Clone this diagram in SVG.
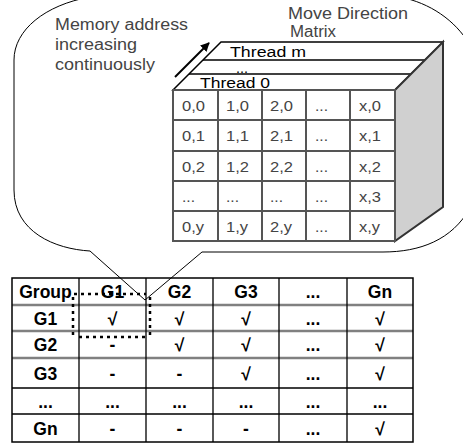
<svg xmlns="http://www.w3.org/2000/svg" width="463" height="444" viewBox="0 0 463 444">
<style>
.lbl{font-family:"Liberation Sans",Arial,sans-serif;font-size:16px;fill:#444}
.th{font-family:"Liberation Sans",Arial,sans-serif;font-size:15.5px;fill:#000}
.c{font-family:"Liberation Sans",Arial,sans-serif;font-size:14.5px;fill:#444}
.t{font-family:"Liberation Sans",Arial,sans-serif;font-size:17.5px;font-weight:bold;fill:#000;text-anchor:middle}
.grid{stroke:#555;stroke-width:2;fill:none}
.tl{stroke:#000;stroke-width:1.3;fill:none}
.tg{stroke:#808080;stroke-width:2.5;fill:none}
.dot{stroke:#000;stroke-width:2.5;stroke-dasharray:3 4;fill:none}
</style>
<defs>
<marker id="ah" viewBox="0 0 10 10" refX="9" refY="5" markerWidth="4.5" markerHeight="4.5" orient="auto" markerUnits="strokeWidth">
<path d="M0,0 L10,5 L0,10 Z" fill="#000"/>
</marker>
</defs>
<rect width="463" height="444" fill="#fff"/>
<g id="callout">
<path d="M90,251 L145,300 L202,252 L383,252 C420,252 452,240 470,208 L470,45 C455,20 430,3 400,-3 L90,-3 C45,5 14,30 14,60 L14,190 C14,232 55,249 90,251 Z" fill="#fff" stroke="#000" stroke-width="1"/>
</g>
<g id="labels">
<text class="lbl" x="55" y="30" textLength="133" lengthAdjust="spacingAndGlyphs">Memory address</text>
<text class="lbl" x="55" y="50" textLength="82" lengthAdjust="spacingAndGlyphs">increasing</text>
<text class="lbl" x="55" y="70" textLength="100" lengthAdjust="spacingAndGlyphs">continuously</text>
<text class="lbl" x="288" y="19" textLength="120" lengthAdjust="spacingAndGlyphs">Move Direction</text>
<text class="lbl" x="290" y="37" textLength="46" lengthAdjust="spacingAndGlyphs">Matrix</text>
</g>
<g id="arrow">
<line x1="175" y1="77" x2="209" y2="43" stroke="#000" stroke-width="2" marker-end="url(#ah)"/>
</g>
<g id="matrix">
<polygon points="173,90 221,42 443,42 395,90" fill="#fff" stroke="#000" stroke-width="1.5"/>
<line x1="203" y1="60" x2="425" y2="60" stroke="#000" stroke-width="1.5"/>
<line x1="189" y1="74" x2="411" y2="74" stroke="#000" stroke-width="1.5"/>
<text class="th" x="230" y="57" textLength="76" lengthAdjust="spacingAndGlyphs">Thread m</text>
<text class="th" x="236" y="72.5" font-size="9" textLength="12" lengthAdjust="spacingAndGlyphs">...</text>
<text class="th" x="200" y="88" textLength="70" lengthAdjust="spacingAndGlyphs">Thread 0</text>
<polygon points="395,90 443,42 443,207 395,241" fill="#d0d0d0" stroke="#333" stroke-width="2"/>
<rect x="173" y="90" width="222" height="151" fill="#fff" class="grid"/>
<path class="grid" d="M218,90V241M262,90V241M306,90V241M350,90V241M173,120H395M173,151H395M173,181H395M173,211H395"/>
<g class="c">
<text x="182" y="110.5" textLength="23" lengthAdjust="spacingAndGlyphs">0,0</text>
<text x="226" y="110.5" textLength="23" lengthAdjust="spacingAndGlyphs">1,0</text>
<text x="270" y="110.5" textLength="23" lengthAdjust="spacingAndGlyphs">2,0</text>
<text x="315" y="110.5" textLength="13" lengthAdjust="spacingAndGlyphs">...</text>
<text x="359" y="110.5" textLength="22" lengthAdjust="spacingAndGlyphs">x,0</text>
<text x="182" y="140.5" textLength="23" lengthAdjust="spacingAndGlyphs">0,1</text>
<text x="226" y="140.5" textLength="23" lengthAdjust="spacingAndGlyphs">1,1</text>
<text x="270" y="140.5" textLength="23" lengthAdjust="spacingAndGlyphs">2,1</text>
<text x="315" y="140.5" textLength="13" lengthAdjust="spacingAndGlyphs">...</text>
<text x="359" y="140.5" textLength="22" lengthAdjust="spacingAndGlyphs">x,1</text>
<text x="182" y="171.5" textLength="23" lengthAdjust="spacingAndGlyphs">0,2</text>
<text x="226" y="171.5" textLength="23" lengthAdjust="spacingAndGlyphs">1,2</text>
<text x="270" y="171.5" textLength="23" lengthAdjust="spacingAndGlyphs">2,2</text>
<text x="315" y="171.5" textLength="13" lengthAdjust="spacingAndGlyphs">...</text>
<text x="359" y="171.5" textLength="22" lengthAdjust="spacingAndGlyphs">x,2</text>
<text x="182" y="201.5" textLength="13" lengthAdjust="spacingAndGlyphs">...</text>
<text x="226" y="201.5" textLength="13" lengthAdjust="spacingAndGlyphs">...</text>
<text x="270" y="201.5" textLength="13" lengthAdjust="spacingAndGlyphs">...</text>
<text x="315" y="201.5" textLength="13" lengthAdjust="spacingAndGlyphs">...</text>
<text x="359" y="201.5" textLength="22" lengthAdjust="spacingAndGlyphs">x,3</text>
<text x="182" y="231.5" textLength="22" lengthAdjust="spacingAndGlyphs">0,y</text>
<text x="226" y="231.5" textLength="22" lengthAdjust="spacingAndGlyphs">1,y</text>
<text x="270" y="231.5" textLength="22" lengthAdjust="spacingAndGlyphs">2,y</text>
<text x="315" y="231.5" textLength="13" lengthAdjust="spacingAndGlyphs">...</text>
<text x="359" y="231.5" textLength="21" lengthAdjust="spacingAndGlyphs">x,y</text>
</g>
</g>
<g id="table">
<path class="tg" d="M12,305H413M12,331H413M12,358H413"/>
<path class="tl" d="M12,388H413M12,414H413M79,278V442M146,278V442M213,278V442M279,278V442M347,278V442"/>
<rect x="12" y="278" width="401" height="164" fill="none" stroke="#000" stroke-width="1.5"/>
<g class="t">
<text x="45.5" y="298">Group</text><text x="112.5" y="298">G1</text><text x="179.5" y="298">G2</text><text x="246" y="298">G3</text><text x="313" y="298">...</text><text x="380" y="298">Gn</text>
<text x="45.5" y="324.5">G1</text><text x="112.5" y="324.5">√</text><text x="179.5" y="324.5">√</text><text x="246" y="324.5">√</text><text x="313" y="324.5">...</text><text x="380" y="324.5">√</text>
<text x="45.5" y="351">G2</text><text x="112.5" y="351">-</text><text x="179.5" y="351">√</text><text x="246" y="351">√</text><text x="313" y="351">...</text><text x="380" y="351">√</text>
<text x="45.5" y="379.5">G3</text><text x="112.5" y="379.5">-</text><text x="179.5" y="379.5">-</text><text x="246" y="379.5">√</text><text x="313" y="379.5">...</text><text x="380" y="379.5">√</text>
<text x="45.5" y="407.5">...</text><text x="112.5" y="407.5">...</text><text x="179.5" y="407.5">...</text><text x="246" y="407.5">...</text><text x="313" y="407.5">...</text><text x="380" y="407.5">...</text>
<text x="45.5" y="434.5">Gn</text><text x="112.5" y="434.5">-</text><text x="179.5" y="434.5">-</text><text x="246" y="434.5">-</text><text x="313" y="434.5">...</text><text x="380" y="434.5">√</text>
</g>
</g>
<g id="selection">
<path class="dot" d="M74,294H146M73,297V335M150,297V335M79,337H146"/>
</g>
</svg>
